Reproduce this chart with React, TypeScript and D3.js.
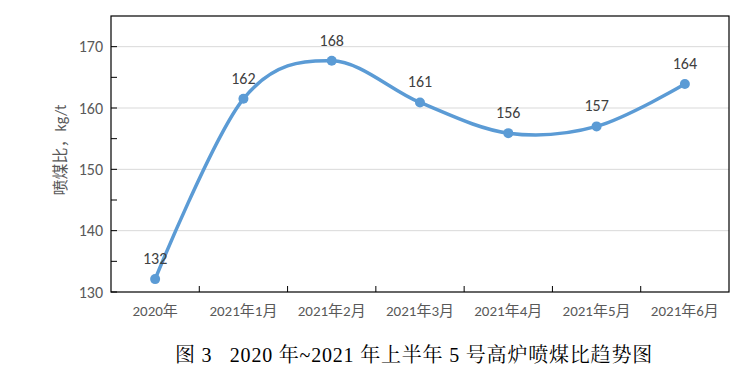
import React from "react";
import * as d3 from "d3";

const categories = ["2020年", "2021年1月", "2021年2月", "2021年3月", "2021年4月", "2021年5月", "2021年6月"];
const values = [132.1, 161.5, 167.7, 160.9, 155.9, 157.0, 163.9];
const yTicks = [130, 140, 150, 160, 170];
const yMinorTicks = [135, 145, 155, 165];
const yLabel = "喷煤比，kg/t";
const title = "图 3\u00a0\u00a0 2020 年~2021 年上半年 5 号高炉喷煤比趋势图";

const W = 750, H = 379;
const left = 111, right = 729, top = 16, bottom = 292;
const LABEL_FONT = "Calibri, Carlito, 'Open Sans', 'Noto Sans CJK SC', sans-serif";

export default function App() {
  const x = d3.scaleBand<string>().domain(categories).range([left, right]).padding(0);
  const y = d3.scaleLinear().domain([130, 175]).range([bottom, top]);
  const cx = (c: string) => (x(c) as number) + x.bandwidth() / 2;
  const pts: [number, number][] = categories.map((c, i) => [cx(c), y(values[i])]);
  const line = d3.line().curve(d3.curveCardinal.tension(0))(pts) as string;
  const fmt = d3.format(".0f");
  const boundaries = categories.slice(1).map((c) => x(c) as number);

  return (
    <svg width={W} height={H} style={{ position: "absolute", left: 0, top: 0, background: "#fff" }}>
      {yTicks.filter((t) => t > 130).map((t) => (
        <line key={"g" + t} x1={left} x2={right} y1={y(t)} y2={y(t)} stroke="#d9d9d9" strokeWidth={1} />
      ))}
      <rect x={left} y={top} width={right - left} height={bottom - top} fill="none" stroke="#000" strokeWidth={1.2} />
      {yTicks.concat(yMinorTicks).map((t) => (
        <line key={"t" + t} x1={left} x2={left + 6} y1={y(t)} y2={y(t)} stroke="#000" strokeWidth={1} />
      ))}
      {boundaries.map((b, i) => (
        <line key={"xt" + i} x1={b} x2={b} y1={bottom} y2={bottom - 6} stroke="#000" strokeWidth={1} />
      ))}
      {yTicks.map((t) => (
        <text key={"yl" + t} x={left - 8} y={y(t)} dy="0.35em" textAnchor="end" fontSize={16} fill="#595959" fontFamily={LABEL_FONT}>
          {t}
        </text>
      ))}
      {categories.map((c) => (
        <text key={"xl" + c} x={cx(c)} y={316} textAnchor="middle" fontSize={15} fill="#595959" fontFamily={LABEL_FONT}>
          {c}
        </text>
      ))}
      <text transform={`translate(66,150) rotate(-90)`} textAnchor="middle" fontSize={16} fill="#595959" fontFamily={LABEL_FONT}>
        {yLabel}
      </text>
      <path d={line} fill="none" stroke="#5b9bd5" strokeWidth={3.5} strokeLinecap="round" />
      {pts.map((p, i) => (
        <circle key={"c" + i} cx={p[0]} cy={p[1]} r={5} fill="#5b9bd5" />
      ))}
      {pts.map((p, i) => (
        <text key={"dl" + i} x={p[0]} y={p[1] - 15} textAnchor="middle" fontSize={16} fill="#404040" fontFamily={LABEL_FONT}>
          {fmt(values[i])}
        </text>
      ))}
      <text x={414} y={362} textAnchor="middle" fontSize={20} letterSpacing={0.8} fill="#000" fontFamily="'Liberation Serif', 'Noto Serif CJK SC', 'Noto Sans CJK SC', serif">
        {title}
      </text>
    </svg>
  );
}
